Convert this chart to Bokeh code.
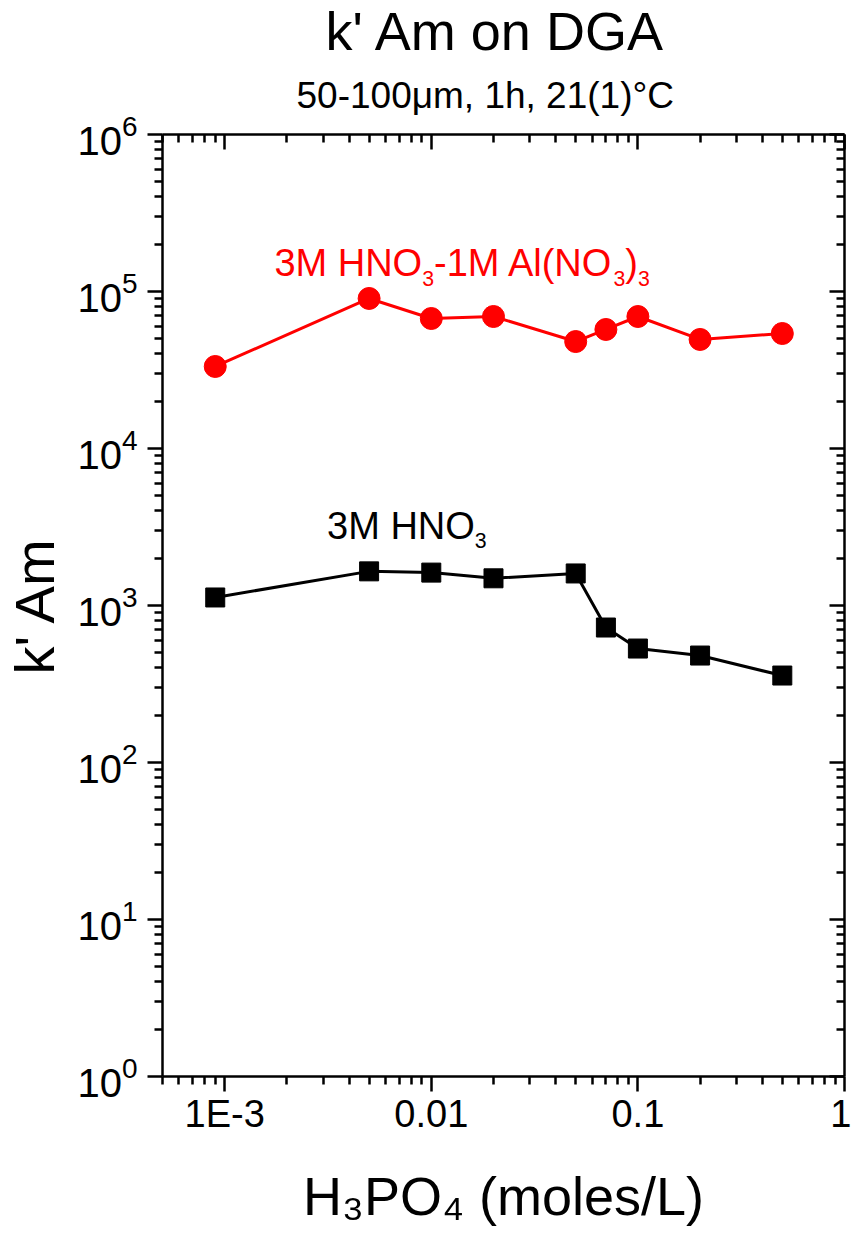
from bokeh.plotting import figure
from bokeh.models import LogAxis, FixedTicker, Title, Label, LogTickFormatter
from bokeh.embed import file_html
from bokeh.resources import INLINE

# ---- data ----
h3po4 = [0.0009, 0.005, 0.01, 0.02, 0.05, 0.07, 0.1, 0.2, 0.5]
k_hno3_al = [33300, 90300, 67300, 69300, 48000, 57300, 69300, 49500, 54000]
k_hno3 = [1125, 1650, 1620, 1490, 1600, 724, 532, 480, 358]

x_ticks = [0.001, 0.01, 0.1, 1]
x_tick_labels = ["1E-3", "0.01", "0.1", "1"]
y_ticks = [1, 10, 100, 1000, 10000, 100000, 1000000]

title_text = "k' Am on DGA"
subtitle_text = "50-100\u03bcm, 1h, 21(1)\u00b0C"
xlabel_text = "H\u2083PO\u2084 (moles/L)"
ylabel_text = "k' Am"
red_runs = [("3M HNO", "n"), ("3", "sub"), ("-1M Al(NO", "n"), ("3", "sub"), (")", "n"), ("3", "sub")]
black_runs = [("3M HNO", "n"), ("3", "sub")]
red_label_pos = (0.00174, 150800)
black_label_pos = (0.00313, 3230)

FONT = "Liberation Sans"
x_lo, x_hi = 5e-4, 1.0
y_lo, y_hi = 1.0, 1e6

x_minor = [m * 10.0 ** e for e in range(-4, 0) for m in range(2, 10) if x_lo <= m * 10.0 ** e <= x_hi]
y_minor = [m * 10.0 ** e for e in range(0, 6) for m in range(2, 10)]

p = figure(width=851, height=1234, x_axis_type="log", y_axis_type="log",
           x_range=(x_lo, x_hi), y_range=(y_lo, y_hi), title=None,
           output_backend="svg", toolbar_location=None,
           min_border_left=160, min_border_right=7, min_border_top=134, min_border_bottom=158)
p.outline_line_color = None
p.xgrid.visible = False
p.ygrid.visible = False
p.background_fill_color = "white"
p.border_fill_color = "white"


def style_axis(ax, ticks, minor, outward):
    ax.ticker = FixedTicker(ticks=ticks, minor_ticks=minor)
    ax.axis_line_width = 2.5
    ax.axis_line_color = "black"
    ax.major_tick_line_width = 2.5
    ax.minor_tick_line_width = 2.5
    ax.major_tick_line_color = "black"
    ax.minor_tick_line_color = "black"
    ax.major_label_text_font = FONT
    ax.major_label_text_color = "black"
    ax.axis_label_text_font = FONT
    ax.axis_label_text_color = "black"
    ax.axis_label_text_font_style = "normal"
    if outward:
        ax.major_tick_out, ax.major_tick_in = 15, 0
        ax.minor_tick_out, ax.minor_tick_in = 8, 0
    else:
        ax.major_tick_out, ax.major_tick_in = 0, 15
        ax.minor_tick_out, ax.minor_tick_in = 0, 8
        ax.major_label_text_font_size = "1px"
        ax.major_label_text_color = None
        ax.major_label_standoff = 0
        ax.axis_label = None


bx = p.xaxis[0]
style_axis(bx, x_ticks, x_minor, True)
bx.major_label_overrides = {v: s for v, s in zip(x_ticks, x_tick_labels)}
bx.major_label_text_font_size = "38px"
bx.major_label_standoff = 1
bx.axis_label = xlabel_text
bx.axis_label_text_font_size = "54px"
bx.axis_label_standoff = 28

ly = p.yaxis[0]
style_axis(ly, y_ticks, y_minor, True)
ly.formatter = LogTickFormatter()
ly.major_label_text_font_size = "40px"
ly.major_label_standoff = 10
ly.axis_label = ylabel_text
ly.axis_label_text_font_size = "56px"
ly.axis_label_standoff = 8

top = LogAxis()
style_axis(top, x_ticks, x_minor, False)
top.major_label_standoff = 3
p.add_layout(top, "above")
right = LogAxis()
style_axis(right, y_ticks, y_minor, False)
p.add_layout(right, "right")

p.add_layout(Title(text=subtitle_text, align="left", offset=134, standoff=37, text_font=FONT,
                   text_font_size="37px", text_font_style="normal", text_color="black"), "above")
p.add_layout(Title(text=title_text, align="left", offset=163, standoff=-12, text_font=FONT,
                   text_font_size="54px", text_font_style="normal", text_color="black"), "above")

# Arial / Liberation Sans advance widths (em) for composing subscript runs
W = {"0": .556, "1": .556, "3": .556, "-": .333, " ": .278, "(": .333, ")": .333,
     "l": .222, "A": .667, "H": .722, "M": .833, "N": .722, "O": .778}
SCALE = {"n": 1.0, "sub": 0.56}
SHIFT = {"n": 0.0, "sub": -0.40}


def width_of(s, size):
    return sum(W.get(c, 0.556) for c in s) * size


def add_runs(pieces, x, y, size, color):
    cur = 0.0
    for t, k in pieces:
        s = size * SCALE[k]
        p.add_layout(Label(x=x, y=y, x_offset=cur, y_offset=SHIFT[k] * size,
                           text=t, text_font=FONT, text_font_size=f"{s:.1f}px",
                           text_color=color, text_align="left", text_baseline="alphabetic"))
        cur += width_of(t, s)


# series
p.line(h3po4, k_hno3_al, line_color="red", line_width=3)
p.scatter(h3po4, k_hno3_al, marker="circle", size=22, fill_color="red", line_color="red")
p.line(h3po4, k_hno3, line_color="black", line_width=3)
p.scatter(h3po4, k_hno3, marker="square", size=19, fill_color="black", line_color="black")

# series annotations
add_runs(red_runs, red_label_pos[0], red_label_pos[1], 38, "red")
add_runs(black_runs, black_label_pos[0], black_label_pos[1], 38, "black")

open("out.html", "w").write(file_html(p, INLINE))
